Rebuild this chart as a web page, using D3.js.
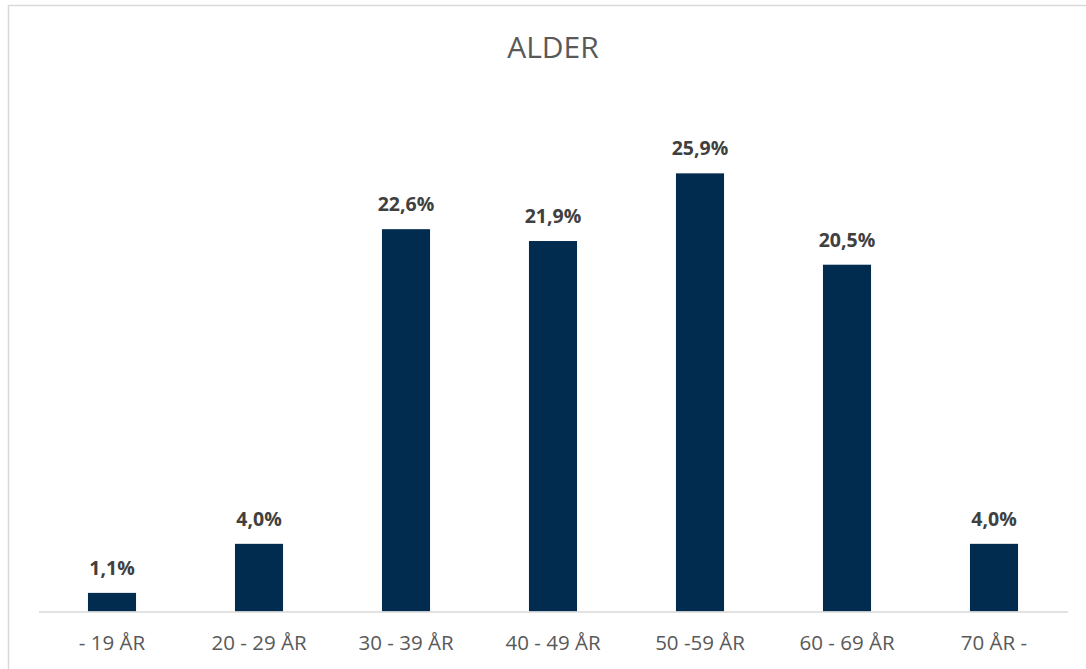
<!DOCTYPE html>
<html>
<head>
<meta charset="utf-8">
<script src="https://cdn.jsdelivr.net/npm/d3@7"></script>
<style>
  html, body { margin: 0; padding: 0; background: #fff; }
  svg { display: block; }
</style>
</head>
<body>
<svg id="chart" width="1086" height="669"></svg>
<script>
const title = "ALDER";
const categories = ["- 19 ÅR", "20 - 29 ÅR", "30 - 39 ÅR", "40 - 49 ÅR", "50 -59 ÅR", "60 - 69 ÅR", "70 ÅR -"];
const values = [1.1, 4.0, 22.6, 21.9, 25.9, 20.5, 4.0];
const valueLabels = ["1,1%", "4,0%", "22,6%", "21,9%", "25,9%", "20,5%", "4,0%"];

const W = 1086, H = 669;
const svg = d3.select("#chart");
const font = "'Open Sans', sans-serif";

// outer chart border
svg.append("rect")
  .attr("x", 8.5).attr("y", 5.5)
  .attr("width", W + 10).attr("height", H + 10)
  .attr("fill", "#fff")
  .attr("stroke", "#d9d9d9").attr("stroke-width", 1.5);

const x = d3.scaleBand().domain(categories).range([38.5, 1067.5]).paddingInner(0.673).paddingOuter(0.3365);
const y = d3.scaleLinear().domain([0, 30]).range([611.5, 104]);

// title
svg.append("text")
  .attr("x", 553).attr("y", 58)
  .attr("text-anchor", "middle")
  .attr("font-family", font).attr("font-size", 30)
  .attr("fill", "#595959")
  .text(title);

// bars
svg.append("g").selectAll("rect").data(values).join("rect")
  .attr("x", (d, i) => x(categories[i]))
  .attr("width", x.bandwidth())
  .attr("y", d => y(d))
  .attr("height", d => y(0) - y(d))
  .attr("fill", "#012b4f");

// axis
const axis = svg.append("g").attr("transform", `translate(0,${y(0)})`)
  .call(d3.axisBottom(x).tickSize(0).tickPadding(0));
axis.select(".domain").attr("stroke", "#d9d9d9").attr("stroke-width", 1.5);
axis.selectAll(".tick text")
  .attr("dy", 0).attr("y", 38)
  .attr("font-family", font).attr("font-size", 20.5)
  .attr("fill", "#595959");

// value labels
svg.append("g").selectAll("text").data(values).join("text")
  .attr("x", (d, i) => x(categories[i]) + x.bandwidth() / 2)
  .attr("y", d => y(d) - 18)
  .attr("text-anchor", "middle")
  .attr("font-family", font).attr("font-size", 19.5).attr("font-weight", "bold")
  .attr("fill", "#404040")
  .text((d, i) => valueLabels[i]);
</script>
</body>
</html>
